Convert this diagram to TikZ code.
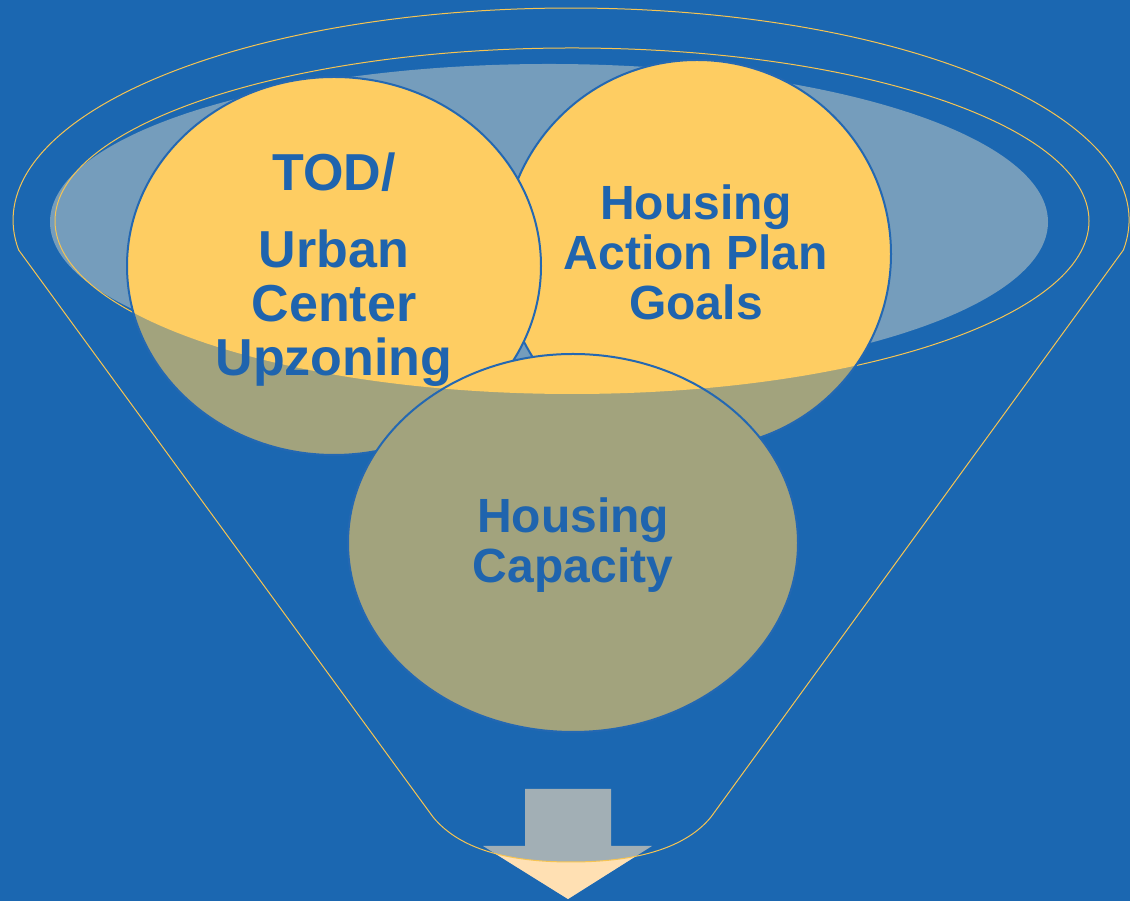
\documentclass[tikz,border=0pt]{standalone}
\usepackage{fontspec}
\setmainfont{Liberation Sans}
\usetikzlibrary{positioning}

\definecolor{bgblue}{RGB}{27,103,177}
\definecolor{txtblue}{RGB}{31,100,174}
\definecolor{ringblue}{RGB}{36,104,178}
\definecolor{sunyellow}{RGB}{254,205,98}
\definecolor{olivegrey}{RGB}{162,163,125}
\definecolor{mistblue}{RGB}{117,157,188}
\definecolor{funnelgold}{RGB}{246,196,82}
\definecolor{arrowgrey}{RGB}{162,175,181}
\definecolor{peach}{RGB}{255,224,179}

\begin{document}
\begin{tikzpicture}
  [
    x                       = 1pt,
    y                       = 1pt,
    funnel line/.style      = {draw=funnelgold, line width=1pt},
    ring line/.style        = {draw=ringblue, line width=2pt},
    label text/.style       = {text=txtblue, align=center, inner sep=0pt,
                               font=\fontsize{48}{50}\selectfont\bfseries},
    big label text/.style   = {label text, font=\fontsize{52}{54}\selectfont\bfseries}
  ]

  \useasboundingbox (0,0) rectangle (1130,901);
  \fill[bgblue] (0,0) rectangle (1130,901);

  \fill[mistblue] (549,679) ellipse [x radius=499pt, y radius=158pt];
  \draw[funnel line] (572,680) ellipse [x radius=517pt, y radius=173pt];

  \foreach \cx/\cy/\rx/\ry in {697/647/194/194, 334/635/207/189, 573/358/225/189} {
    \fill[olivegrey] (\cx,\cy) ellipse [x radius=\rx pt, y radius=\ry pt];
    \begin{scope}
      \clip (572,680) ellipse [x radius=517pt, y radius=173pt];
      \fill[sunyellow] (\cx,\cy) ellipse [x radius=\rx pt, y radius=\ry pt];
    \end{scope}
    \draw[ring line] (\cx,\cy) ellipse [x radius=\rx pt, y radius=\ry pt];
  }

  \fill[arrowgrey] (525,112) -- (611,112) -- (611,55) -- (652,55) -- (568,2)
    -- (483,55) -- (525,55) -- cycle;
  \begin{scope}
    \clip (433,84) .. controls (460,51) and (510,39) .. (571,39)
      .. controls (632,39) and (684,51) .. (711,84) -- (711,0) -- (433,0) -- cycle;
    \fill[peach] (525,112) -- (611,112) -- (611,55) -- (652,55) -- (568,2)
      -- (483,55) -- (525,55) -- cycle;
  \end{scope}

  \draw[funnel line] (1123.4,651) arc [start angle=-8.13, end angle=188.13,
      x radius=558pt, y radius=212pt]
    -- (433,84) .. controls (460,51) and (510,39) .. (571,39)
    .. controls (632,39) and (684,51) .. (711,84) -- cycle;

  \node[big label text, anchor=base] (tod) at (334,525) {TOD/\\[23pt]Urban\\Center\\Upzoning};
  \node[label text, anchor=base] (plan) at (696,581) {Housing\\Action Plan\\Goals};
  \node[label text, anchor=base] (capacity) at (573,318) {Housing\\Capacity};
\end{tikzpicture}
\end{document}
